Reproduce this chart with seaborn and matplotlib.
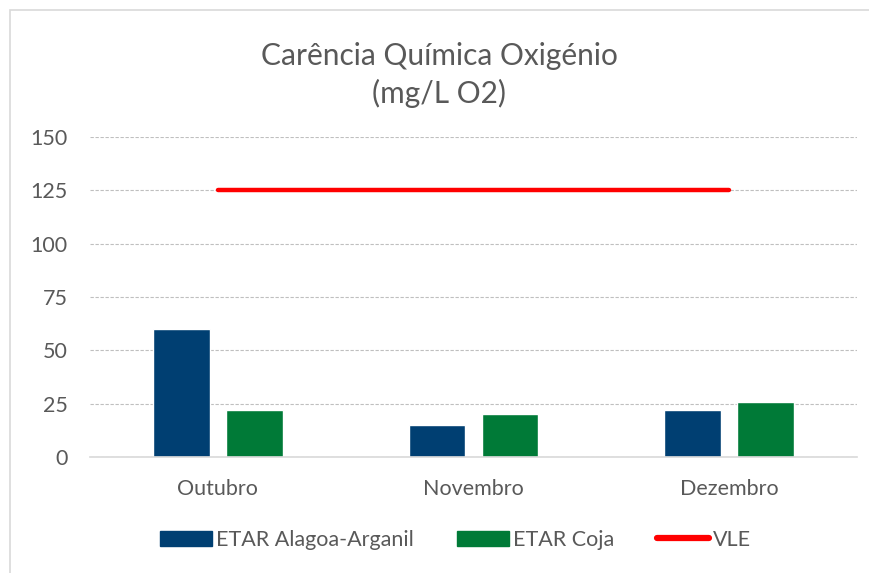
import matplotlib
matplotlib.use("Agg")
import matplotlib.pyplot as plt
import seaborn as sns
import pandas as pd
from matplotlib.patches import Rectangle
from matplotlib.lines import Line2D

# === data ===
months = ["Outubro", "Novembro", "Dezembro"]
alagoa = [60, 15, 22]
coja = [22, 20, 26]
vle = [125, 125, 125]
series_names = ["ETAR Alagoa-Arganil", "ETAR Coja"]

df = pd.DataFrame({
    "Mes": months * 2,
    "Valor": alagoa + coja,
    "Estacao": [series_names[0]] * 3 + [series_names[1]] * 3,
})

sns.set_style("white")
plt.rcParams["font.family"] = ["Lato", "DejaVu Sans"]
text_grey = "#595959"
colors = {series_names[0]: "#003F72", series_names[1]: "#007A37"}

fig = plt.figure(figsize=(8.7, 5.73), dpi=100)
ax = fig.add_axes([90 / 870, 1 - 457 / 573, 767 / 870, 320 / 573])

sns.barplot(data=df, x="Mes", y="Valor", hue="Estacao", palette=colors,
            width=0.57, gap=0.22, saturation=1, ax=ax, legend=False)
sns.lineplot(x=list(range(len(months))), y=vle, color="#FF0000",
             linewidth=3.2, ax=ax)

ax.set_xlim(-0.5, 2.5)
ax.set_ylim(0, 150)
ax.set_yticks(range(0, 151, 25))
ax.yaxis.grid(True, linestyle=(0, (3, 1.5)), color="#BFBFBF", linewidth=0.8)
ax.set_axisbelow(True)
for s in ["top", "right", "left"]:
    ax.spines[s].set_visible(False)
ax.spines["bottom"].set_color("#D9D9D9")
ax.spines["bottom"].set_linewidth(1.2)
ax.tick_params(axis="both", length=0, labelsize=15.5, colors=text_grey)
ax.tick_params(axis="y", pad=16)
ax.tick_params(axis="x", pad=16)
ax.set_xlabel("")
ax.set_ylabel("")

fig.text(0.505, 1 - 75 / 573, "Carência Química Oxigénio\n(mg/L O2)",
         ha="center", va="center", fontsize=21.5, color=text_grey,
         linespacing=1.35)

handles = [
    Rectangle((0, 0), 1, 1, color=colors[series_names[0]]),
    Rectangle((0, 0), 1, 1, color=colors[series_names[1]]),
    Line2D([0], [0], color="#FF0000", linewidth=4.5, solid_capstyle="round"),
]
fig.legend(handles, series_names + ["VLE"], loc="center",
           bbox_to_anchor=(0.524, 1 - 540 / 573), ncol=3, frameon=False,
           fontsize=15.5, labelcolor=text_grey, handlelength=2.4,
           handleheight=0.7, handletextpad=0.2, columnspacing=2.0)

# chart frame
fig.patches.append(Rectangle((10 / 870, -0.05), 1.0, 1 - 10 / 573 + 0.05,
                             transform=fig.transFigure, fill=False,
                             edgecolor="#D9D9D9", linewidth=1.2))

fig.savefig("out.png", dpi=100)
